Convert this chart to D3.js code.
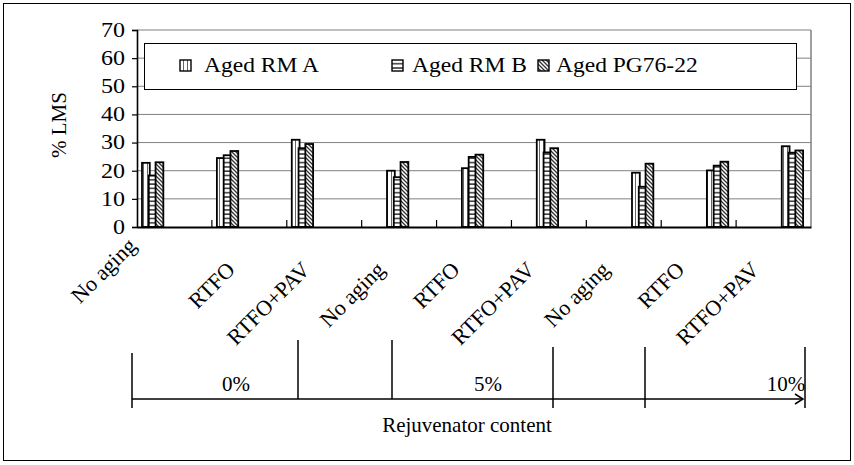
<!DOCTYPE html>
<html><head><meta charset="utf-8">
<script src="https://cdn.jsdelivr.net/npm/d3@7"></script>
<style>
html,body{margin:0;padding:0;background:#fff;}
</style></head>
<body>
<svg id="chart" width="854" height="465"></svg>
<script>
const categories = ["No aging","RTFO","RTFO+PAV","No aging","RTFO","RTFO+PAV","No aging","RTFO","RTFO+PAV"];
const contents = ["0%","5%","10%"];
const seriesNames = ["Aged RM A","Aged RM B","Aged PG76-22"];
const rmA = [22.8, 24.5, 31.0, 20.0, 20.9, 31.0, 19.3, 20.1, 28.7];
const rmB = [18.3, 25.5, 28.0, 17.7, 24.9, 26.5, 14.3, 21.8, 26.4];
const pg76 = [23.0, 27.0, 29.5, 23.1, 25.7, 28.0, 22.5, 23.2, 27.2];
const yTicks = [0,10,20,30,40,50,60,70];
const seriesValues = [rmA, rmB, pg76];

const FONT = "'Liberation Serif', serif";
const svg = d3.select("#chart");
const defs = svg.append("defs");

// patterns
const pA = defs.append("pattern").attr("id","pA").attr("patternUnits","userSpaceOnUse").attr("width",4).attr("height",4);
pA.append("rect").attr("width",4).attr("height",4).attr("fill","#fff");
pA.append("line").attr("x1",3.5).attr("x2",3.5).attr("y1",0).attr("y2",4).attr("stroke","#666").attr("stroke-width",1);
const pB = defs.append("pattern").attr("id","pB").attr("patternUnits","userSpaceOnUse").attr("width",4).attr("height",4.3);
pB.append("rect").attr("width",4).attr("height",4.3).attr("fill","#fff");
pB.append("line").attr("x1",0).attr("x2",4).attr("y1",3.5).attr("y2",3.5).attr("stroke","#000").attr("stroke-width",1.2);
const pC = defs.append("pattern").attr("id","pC").attr("patternUnits","userSpaceOnUse").attr("width",4).attr("height",4);
pC.append("rect").attr("width",4).attr("height",4).attr("fill","#fff");
pC.append("path").attr("d","M0,0 L4,4 M-1,3 L1,5 M3,-1 L5,1").attr("stroke","#333").attr("stroke-width",1.3);
const fills = ["url(#pA)","url(#pB)","url(#pC)"];

// outer frame
svg.append("rect").attr("x",3.5).attr("y",3.5).attr("width",847).attr("height",457)
  .attr("fill","none").attr("stroke","#000").attr("stroke-width",1);

const plotL = 137, plotR = 811, plotT = 30, plotB = 227;
const x = d3.scaleBand().domain(d3.range(categories.length)).range([plotL, plotR]).padding(0);
const slot = d3.scaleBand().domain(d3.range(9)).range([5, 66]).padding(0);
const y = d3.scaleLinear().domain([0,70]).range([plotB, plotT]);

// gridlines
svg.append("g").selectAll("line").data(yTicks.filter(d=>d>0)).join("line")
  .attr("x1",plotL).attr("x2",plotR).attr("y1",d=>y(d)).attr("y2",d=>y(d))
  .attr("stroke","#808080").attr("stroke-width",1);
svg.append("line").attr("x1",plotR).attr("x2",plotR).attr("y1",plotT).attr("y2",plotB)
  .attr("stroke","#808080").attr("stroke-width",1.5);

// bars
const barData = [];
categories.forEach((c,i)=>{
  const g = Math.floor(i/3);
  seriesValues.forEach((vals,s)=>{
    barData.push({i, s, v: vals[i], slot: g*3+s});
  });
});
svg.append("g").selectAll("rect").data(barData).join("rect")
  .attr("x", d=>x(d.i)+slot(d.slot))
  .attr("width", slot.bandwidth()+1)
  .attr("y", d=>y(d.v))
  .attr("height", d=>plotB - y(d.v))
  .attr("fill", d=>fills[d.s])
  .attr("stroke","#000").attr("stroke-width",1.8);

const T = (sel, size) => sel.style("font-family",FONT).style("font-size",(size||21)+"px").attr("fill","#000");

// y axis (ticks via axis, labels stretched like the original)
const yAxis = d3.axisLeft(y).tickValues(yTicks).tickSize(5).tickFormat("");
const ya = svg.append("g").attr("transform",`translate(${plotL},0)`).call(yAxis);
ya.select(".domain").attr("stroke","#000").attr("stroke-width",1.6);
ya.selectAll(".tick line").attr("stroke","#000").attr("stroke-width",1.2);
svg.append("g").selectAll("text").data(yTicks).join("text")
  .attr("transform",d=>`translate(125,${y(d)}) scale(1.2,1)`)
  .attr("dy","0.34em").attr("text-anchor","end").call(T, 20).text(d=>d);

// x axis
const xa = svg.append("g").attr("transform",`translate(0,${plotB})`)
  .call(d3.axisBottom(x).tickSize(0).tickFormat(""));
xa.select(".domain").attr("stroke","#000").attr("stroke-width",2);
svg.append("g").selectAll("line").data(d3.range(1,categories.length)).join("line")
  .attr("x1",d=>x(d)).attr("x2",d=>x(d)).attr("y1",plotB).attr("y2",plotB-7)
  .attr("stroke","#000").attr("stroke-width",1.2);

// category labels
svg.append("g").selectAll("text").data(categories).join("text")
  .attr("transform",(d,i)=>{
    const sh = i===0 ? -24 : 0;
    return `translate(${x(i)+x.bandwidth()/2-13+sh},${271+sh}) rotate(-45)`;
  })
  .attr("text-anchor","end").call(T, 22).text(d=>d);

// y label
svg.append("text").attr("transform","translate(66,125) rotate(-90)")
  .attr("text-anchor","middle").call(T, 21).text("% LMS");

// legend
svg.append("rect").attr("x",144.5).attr("y",43.5).attr("width",652).attr("height",46)
  .attr("fill","#fff").attr("stroke","#000").attr("stroke-width",1);
const legX = [180, 392, 538];
const lg = svg.append("g").selectAll("g").data(seriesNames).join("g")
  .attr("transform",(d,i)=>`translate(${legX[i]},0)`);
lg.append("rect").attr("x",0).attr("y",60).attr("width",11).attr("height",11)
  .attr("fill",(d,i)=>fills[i]).attr("stroke","#000").attr("stroke-width",1.4);
lg.append("text").attr("transform",(d,i)=>`translate(${i===0?24:(i===1?20:18)},72) scale(1.12,1)`)
  .call(T, 21).text(d=>d);

// rejuvenator content bracket
const br = svg.append("g").attr("stroke","#000").attr("stroke-width",1.5);
br.append("line").attr("x1",132).attr("x2",803).attr("y1",399).attr("y2",399);
br.append("path").attr("d","M795,394 L803,399 L795,404").attr("fill","none");
const vlines = [[132,353,408],[298,340,399],[392,340,399],[553,347,408],[645,347,408],[805,347,408]];
br.selectAll("line.v").data(vlines).join("line").attr("class","v")
  .attr("x1",d=>d[0]).attr("x2",d=>d[0]).attr("y1",d=>d[1]).attr("y2",d=>d[2]);
const contentX = [236, 488, 786];
svg.append("g").selectAll("text").data(contents).join("text")
  .attr("x",(d,i)=>contentX[i]).attr("y",391).attr("text-anchor","middle").call(T, 21).text(d=>d);
svg.append("text").attr("x",467).attr("y",432).attr("text-anchor","middle").call(T, 21).text("Rejuvenator content");
</script>
</body></html>
